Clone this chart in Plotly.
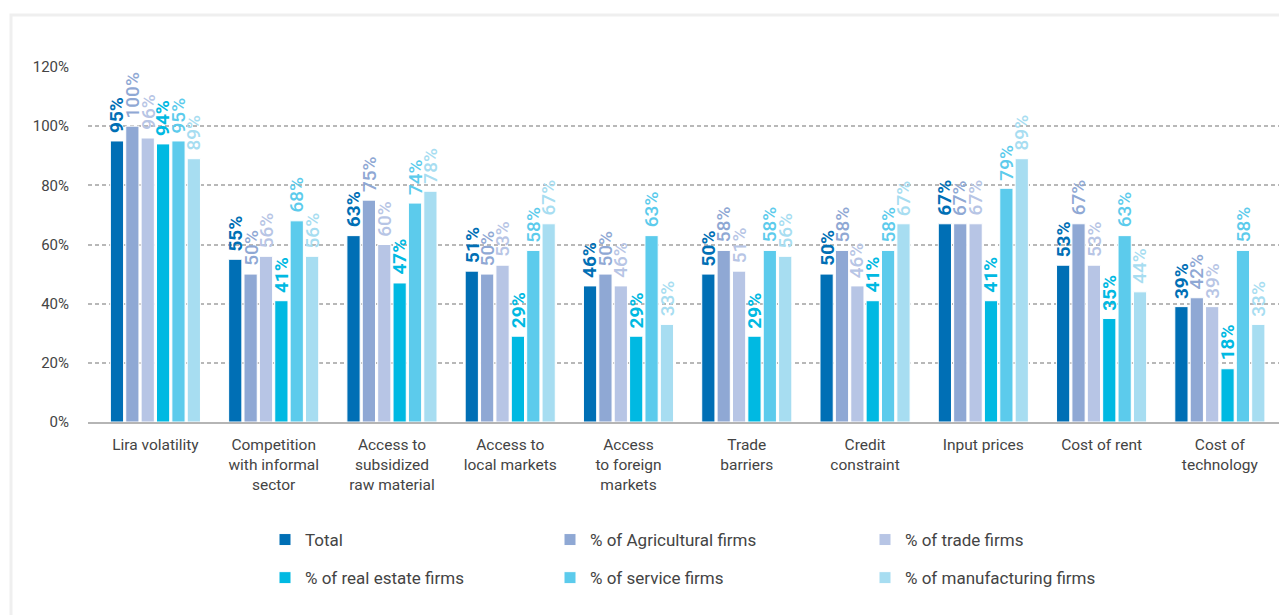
import plotly.graph_objects as go

# Obstacles reported by firms, share of respondents by sector
categories = [
    "Lira volatility",
    "Competition<br>with informal<br>sector",
    "Access to<br>subsidized<br>raw material",
    "Access to<br>local markets",
    "Access<br>to foreign<br>markets",
    "Trade<br>barriers",
    "Credit<br>constraint",
    "Input prices",
    "Cost of rent",
    "Cost of<br>technology",
]

total = [95, 55, 63, 51, 46, 50, 50, 67, 53, 39]
agricultural = [100, 50, 75, 50, 50, 58, 58, 67, 67, 42]
trade = [96, 56, 60, 53, 46, 51, 46, 67, 53, 39]
real_estate = [94, 41, 47, 29, 29, 29, 41, 41, 35, 18]
service = [95, 68, 74, 58, 63, 58, 58, 79, 63, 58]
manufacturing = [89, 56, 78, 67, 33, 56, 67, 89, 44, 33]

series_names = [
    "Total",
    "% of Agricultural firms",
    "% of trade firms",
    "% of real estate firms",
    "% of service firms",
    "% of manufacturing firms",
]
series_values = [total, agricultural, trade, real_estate, service, manufacturing]
series_colors = ["#006fb5", "#8fa8d4", "#b7c5e5", "#00b9e2", "#5ccbec", "#a7ddf1"]
label_weights = [700, 500, 500, 700, 500, 500]
# legend column each series sits in
legend_ids = ["legend", "legend2", "legend3", "legend", "legend2", "legend3"]

FONT = "Roboto, Arial, sans-serif"
TEXT_GREY = "#444444"

W, H = 1279, 615
ML, MR, MT, MB = 88, 0, 67, 193
plot_w = W - ML - MR
plot_h = H - MT - MB

BARGAP = 0.22
n_series = len(series_values)
slot = (1 - BARGAP) / n_series


def px_x(p):
    return (p - ML) / plot_w


def px_y(p):
    return (H - MB - p) / plot_h


fig = go.Figure()
annotations = []
for j, (name, vals, color, weight, leg) in enumerate(
        zip(series_names, series_values, series_colors, label_weights, legend_ids)):
    fig.add_trace(go.Bar(
        name=name,
        x=categories,
        y=vals,
        marker=dict(color=color, line=dict(color="white", width=1)),
        legend=leg,
        legendgroup=name,
        hovertemplate="%{y}%<extra>" + name + "</extra>",
    ))
    # vertical value labels sitting above each bar
    offset = -(1 - BARGAP) / 2 + (j + 0.5) * slot
    for i, v in enumerate(vals):
        annotations.append(dict(
            x=i + offset, y=v, xref="x", yref="y",
            text=f"{v}%",
            textangle=-90,
            showarrow=False,
            xanchor="center", yanchor="bottom",
            yshift=6,
            font=dict(family=FONT, size=19, color=color, weight=weight),
        ))

legend_common = dict(
    orientation="v",
    xanchor="left",
    yanchor="top",
    font=dict(family=FONT, size=17, color=TEXT_GREY),
    tracegroupgap=13,
    itemclick=False,
    bgcolor="rgba(0,0,0,0)",
)

fig.update_layout(
    width=W,
    height=H,
    margin=dict(l=ML, r=MR, t=MT, b=MB),
    paper_bgcolor="white",
    plot_bgcolor="white",
    barmode="group",
    bargap=BARGAP,
    bargroupgap=0.14,
    font=dict(family=FONT, color=TEXT_GREY),
    annotations=annotations,
    xaxis=dict(
        range=[-0.57, 9.5],
        showgrid=False,
        showline=True,
        linecolor="#b5b5b5",
        linewidth=2,
        ticks="",
        tickfont=dict(family=FONT, size=15.5, color=TEXT_GREY),
        ticklabelstandoff=7,
    ),
    yaxis=dict(
        range=[0, 120],
        tickvals=[0, 20, 40, 60, 80, 100, 120],
        ticktext=["0%", "20%", "40%", "60%", "80%", "100%", "120%"],
        showgrid=True,
        gridcolor="#b8b8b8",
        gridwidth=1.5,
        griddash="4px,3px",
        zeroline=False,
        showline=False,
        ticks="",
        tickfont=dict(family=FONT, size=15, color=TEXT_GREY),
        ticklabelstandoff=18,
    ),
    legend=dict(x=px_x(265), y=px_y(522), **legend_common),
    legend2=dict(x=px_x(550), y=px_y(522), **legend_common),
    legend3=dict(x=px_x(865), y=px_y(522), **legend_common),
    shapes=[
        # light frame around the panel
        dict(
            type="rect", xref="paper", yref="paper",
            x0=px_x(11), x1=px_x(1400), y0=px_y(800), y1=px_y(15),
            line=dict(color="#efefef", width=3),
            fillcolor="rgba(0,0,0,0)",
            layer="below",
        )
    ],
)

fig.write_html("out.html")
